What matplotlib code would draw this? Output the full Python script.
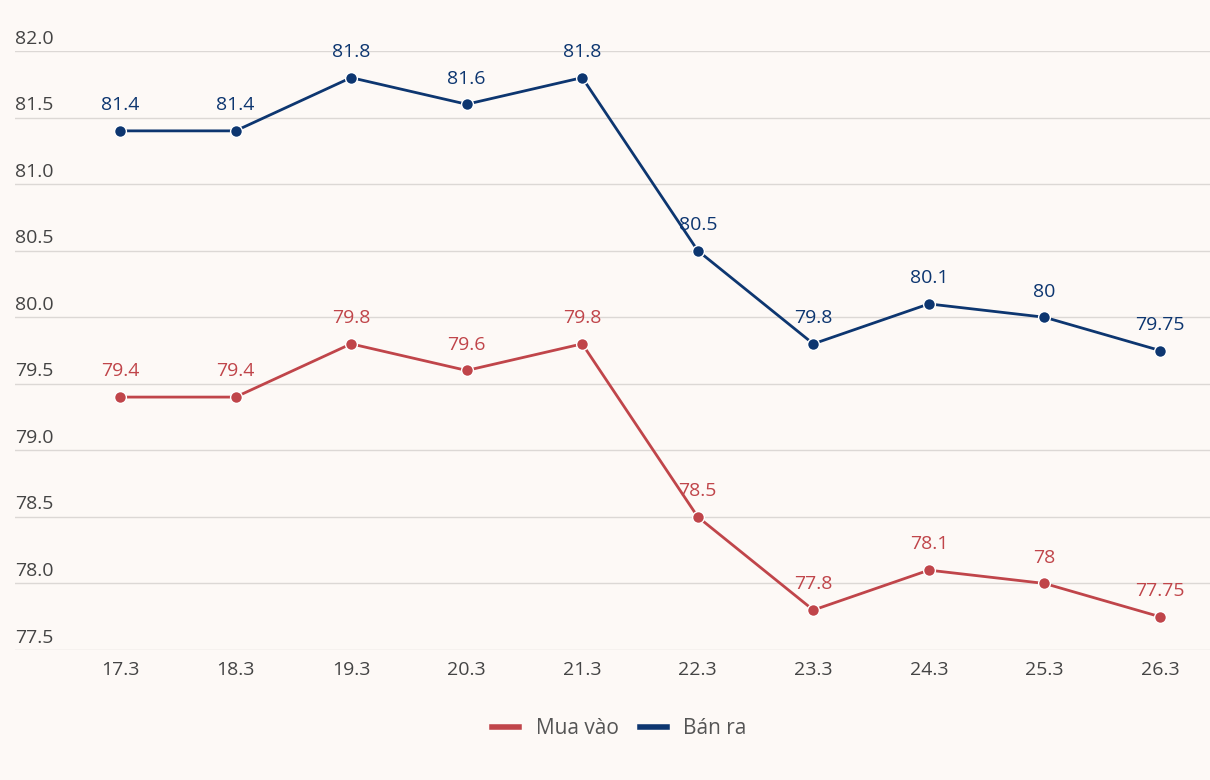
import matplotlib.pyplot as plt
from matplotlib.lines import Line2D
from matplotlib.transforms import offset_copy

dates = ["17.3", "18.3", "19.3", "20.3", "21.3", "22.3", "23.3", "24.3", "25.3", "26.3"]
mua_vao = [79.4, 79.4, 79.8, 79.6, 79.8, 78.5, 77.8, 78.1, 78.0, 77.75]
ban_ra = [81.4, 81.4, 81.8, 81.6, 81.8, 80.5, 79.8, 80.1, 80.0, 79.75]
mua_labels = ["79.4", "79.4", "79.8", "79.6", "79.8", "78.5", "77.8", "78.1", "78", "77.75"]
ban_labels = ["81.4", "81.4", "81.8", "81.6", "81.8", "80.5", "79.8", "80.1", "80", "79.75"]
yticks = [77.5, 78.0, 78.5, 79.0, 79.5, 80.0, 80.5, 81.0, 81.5, 82.0]

bg = "#fdf9f6"
red = "#c0454a"
blue = "#0d3670"

plt.rcParams["font.family"] = ["Open Sans", "DejaVu Sans"]

fig = plt.figure(figsize=(12.1, 7.8), dpi=100, facecolor=bg)
ax = fig.add_axes([15 / 1210, 130 / 780, 1195 / 1210, 599 / 780], facecolor=bg)

x = list(range(len(dates)))
ax.set_xlim(-105 / 115.6, 9 + 50 / 115.6)
ax.set_ylim(77.5, 82.0)

for series, labels, color in [(mua_vao, mua_labels, red), (ban_ra, ban_labels, blue)]:
    ax.plot(x, series, color=color, lw=2, marker="o", ms=8.5,
            markeredgecolor="white", markeredgewidth=1.0, zorder=3, clip_on=False)
    for xi, yi, lab in zip(x, series, labels):
        ax.annotate(lab, (xi, yi), xytext=(0, 12), textcoords="offset points",
                    ha="center", va="bottom", fontsize=14, color=color)

ax.set_yticks(yticks)
ax.yaxis.grid(True, color="#dcd8d5", lw=1)
ax.set_axisbelow(True)
ax.tick_params(axis="y", length=0, labelleft=False)
ytrans = offset_copy(ax.get_yaxis_transform(), fig=fig, x=0, y=2.5, units="points")
for yt in yticks:
    ax.text(0, yt, "%.1f" % yt, transform=ytrans,
            ha="left", va="bottom", fontsize=14, color="#444444")
ax.set_xticks(x)
ax.set_xticklabels(dates, fontsize=14, color="#444444")
ax.tick_params(axis="x", length=0, pad=8)
for s in ax.spines.values():
    s.set_visible(False)

handles = [Line2D([], [], color=red, lw=4), Line2D([], [], color=blue, lw=4)]
fig.legend(handles, ["Mua vào", "Bán ra"], loc="center", bbox_to_anchor=(0.512, 0.066),
           ncol=2, frameon=False, fontsize=15, handlelength=1.3, columnspacing=1.0,
           handletextpad=0.8, labelcolor="#555555")

fig.savefig("out.png", dpi=100, facecolor=bg)
